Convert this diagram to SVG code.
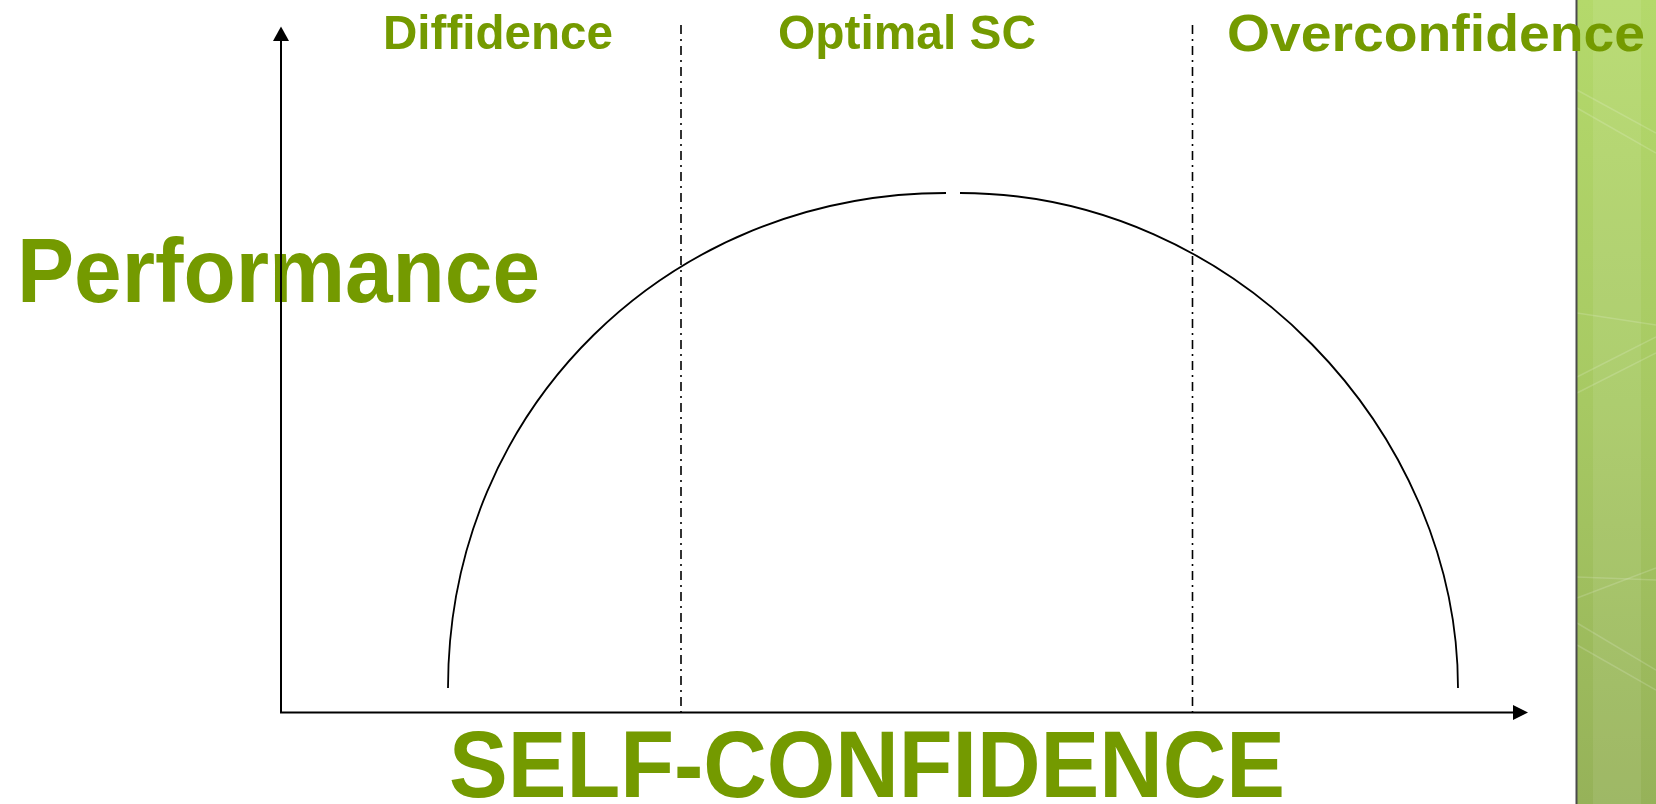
<svg xmlns="http://www.w3.org/2000/svg" width="1656" height="804" viewBox="0 0 1656 804">
<defs>
<linearGradient id="stripGrad" x1="0" y1="0" x2="0" y2="1">
<stop offset="0" stop-color="#b4d96b"/>
<stop offset="0.5" stop-color="#a7c963"/>
<stop offset="1" stop-color="#96b259"/>
</linearGradient>
</defs>
<style>
.lbl{font-family:"Liberation Sans",Arial,sans-serif;font-weight:bold;fill:#749a00;}
.axis{stroke:#000;stroke-width:2;fill:none;}
.div{stroke:#000;stroke-width:1.6;stroke-dasharray:9 5 2 5;fill:none;}
.curve{stroke:#000;stroke-width:1.8;fill:none;}
.gl{stroke:#ffffff;stroke-opacity:0.16;stroke-width:1.5;fill:none;}
</style>
<rect x="0" y="0" width="1656" height="804" fill="#ffffff"/>
<g id="strip">
<rect x="1577" y="0" width="79" height="804" fill="url(#stripGrad)"/>
<rect x="1593" y="0" width="48" height="804" fill="#ffffff" fill-opacity="0.08"/>
<line class="gl" x1="1577" y1="90" x2="1656" y2="133"/>
<line class="gl" x1="1577" y1="108" x2="1656" y2="153"/>
<line class="gl" x1="1577" y1="313" x2="1656" y2="325"/>
<line class="gl" x1="1577" y1="377" x2="1656" y2="337"/>
<line class="gl" x1="1577" y1="393" x2="1656" y2="353"/>
<line class="gl" x1="1577" y1="577" x2="1656" y2="580"/>
<line class="gl" x1="1577" y1="598" x2="1656" y2="568"/>
<line class="gl" x1="1577" y1="623" x2="1656" y2="670"/>
<line class="gl" x1="1577" y1="645" x2="1656" y2="690"/>
<line x1="1576.5" y1="0" x2="1576.5" y2="804" stroke="#4a4a4a" stroke-width="2"/>
</g>
<g id="label-diffidence"><text class="lbl" x="383" y="49" font-size="49" textLength="230" lengthAdjust="spacingAndGlyphs">Diffidence</text></g>
<g id="label-optimal"><text class="lbl" x="778" y="49" font-size="49" textLength="258" lengthAdjust="spacingAndGlyphs">Optimal SC</text></g>
<g id="label-overconfidence"><text class="lbl" x="1227" y="51" font-size="52" textLength="418" lengthAdjust="spacingAndGlyphs">Overconfidence</text></g>
<g id="label-performance"><text class="lbl" x="17" y="302" font-size="91" textLength="523" lengthAdjust="spacingAndGlyphs">Performance</text></g>
<g id="label-selfconfidence"><text class="lbl" x="449" y="797" font-size="94" textLength="836" lengthAdjust="spacingAndGlyphs">SELF-CONFIDENCE</text></g>
<g id="curve">
<path class="curve" d="M448,688 C448,406 671,193 946,193"/>
<path class="curve" d="M960,193 C1235,193 1458,432 1458,688"/>
</g>
<g id="dividers">
<line class="div" x1="681" y1="25" x2="681" y2="712"/>
<line class="div" x1="1192.5" y1="25" x2="1192.5" y2="712"/>
</g>
<g id="connectors">
<line class="axis" x1="281" y1="713" x2="281" y2="40"/>
<polygon points="281,26.5 273,41 289,41" fill="#000"/>
<line class="axis" x1="280" y1="712.5" x2="1514" y2="712.5"/>
<polygon points="1528,712.5 1513,705 1513,720" fill="#000"/>
</g>
</svg>
